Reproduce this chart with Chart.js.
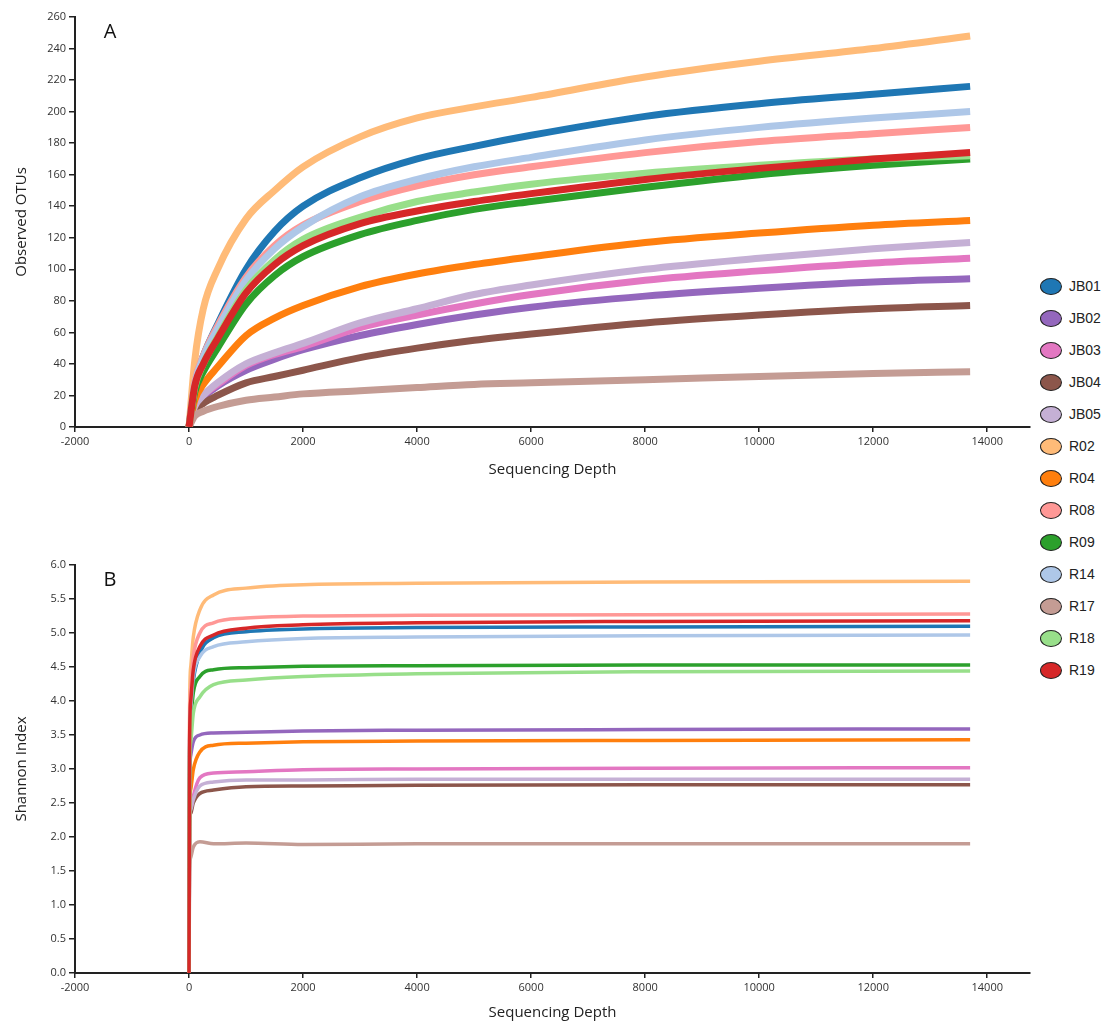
<!DOCTYPE html>
<html>
<head>
<meta charset="utf-8">
<script src="https://cdn.jsdelivr.net/npm/chart.js@4/dist/chart.umd.min.js"></script>
<style>
  body { margin: 0; background: #fff; width: 1113px; height: 1028px; position: relative; overflow: hidden; }
  canvas { position: absolute; left: 0; }
  #legend { position: absolute; left: 1040px; top: 270px; font-family: "Liberation Sans", Arial, sans-serif; font-size: 14px; color: #222; }
  .item { height: 32px; display: flex; align-items: center; }
  .swatch { width: 20px; height: 15px; border: 1.5px solid #222; border-radius: 50%; margin-right: 7px; box-sizing: content-box; }
</style>
</head>
<body>
<canvas id="chartA" width="1040" height="490" style="top:0"></canvas>
<canvas id="chartB" width="1040" height="488" style="top:540px"></canvas>
<div id="legend"></div>
<script>
// samples and colours (legend order)
const samples = ["JB01", "JB02", "JB03", "JB04", "JB05", "R02", "R04", "R08", "R09", "R14", "R17", "R18", "R19"];
const colors = ["#1f77b4", "#9467bd", "#e377c2", "#8c564b", "#c5b0d5", "#ffbb78", "#ff7f0e", "#ff9896", "#2ca02c", "#aec7e8", "#c49c94", "#98df8a", "#d62728"];

// panel A: observed OTUs, read at these depths
const depthA = [0, 100, 250, 500, 1000, 1500, 2000, 3000, 4000, 5000, 6000, 8000, 10000, 12000, 13700];
const otuJB01 = [0, 28, 45, 65, 100, 124, 140, 158, 170, 178, 185, 197, 205, 211, 216];
const otuJB02 = [0, 13, 19, 26, 36, 43, 49, 58, 65, 71, 76, 83, 88, 92, 94];
const otuJB03 = [0, 13, 20, 27, 39, 46, 51, 63, 71, 78, 84, 93, 99, 104, 107];
const otuJB04 = [0, 10, 15, 20, 28, 32, 36, 44, 50, 55, 59, 66, 71, 75, 77];
const otuJB05 = [0, 13, 20, 28, 40, 47, 53, 66, 75, 84, 90, 100, 107, 113, 117];
const otuR02 = [0, 42, 75, 100, 132, 150, 165, 184, 196, 203, 209, 222, 232, 240, 248];
const otuR04 = [0, 17, 27, 38, 58, 69, 77, 89, 97, 103, 108, 117, 123, 128, 131];
const otuR08 = [0, 28, 45, 64, 95, 115, 128, 143, 153, 160, 165, 174, 181, 186, 190];
const otuR09 = [0, 22, 35, 50, 78, 96, 108, 122, 131, 138, 143, 152, 160, 166, 170];
const otuR14 = [0, 27, 44, 62, 93, 113, 127, 146, 157, 165, 171, 182, 190, 196, 200];
const otuR17 = [0, 7, 10, 13, 17, 19, 21, 23, 25, 27, 28, 30, 32, 34, 35];
const otuR18 = [0, 25, 40, 57, 87, 106, 119, 133, 143, 149, 154, 161, 166, 170, 172];
const otuR19 = [0, 26, 40, 56, 85, 103, 115, 129, 137, 143, 148, 157, 164, 170, 174];

// panel B: Shannon index, read at these depths
const depthB = [0, 10, 30, 75, 190, 430, 1000, 2000, 4000, 8000, 13700];
const shJB01 = [0, 3.3, 3.9, 4.3, 4.7, 4.93, 5.02, 5.06, 5.08, 5.09, 5.10];
const shJB02 = [0, 2.8, 3.2, 3.4, 3.5, 3.53, 3.54, 3.56, 3.57, 3.58, 3.59];
const shJB03 = [0, 2.2, 2.4, 2.6, 2.87, 2.94, 2.96, 2.99, 3.00, 3.01, 3.02];
const shJB04 = [0, 2.2, 2.35, 2.5, 2.64, 2.69, 2.74, 2.75, 2.76, 2.77, 2.77];
const shJB05 = [0, 2.2, 2.4, 2.55, 2.75, 2.81, 2.84, 2.84, 2.85, 2.85, 2.85];
const shR02 = [0, 3.9, 4.5, 4.94, 5.34, 5.56, 5.66, 5.71, 5.73, 5.75, 5.76];
const shR04 = [0, 2.4, 2.7, 2.99, 3.25, 3.35, 3.38, 3.40, 3.41, 3.42, 3.43];
const shR08 = [0, 3.6, 4.2, 4.65, 5.0, 5.15, 5.22, 5.25, 5.26, 5.27, 5.28];
const shR09 = [0, 3.2, 3.7, 4.12, 4.36, 4.46, 4.49, 4.51, 4.52, 4.53, 4.53];
const shR14 = [0, 3.4, 3.9, 4.36, 4.65, 4.80, 4.87, 4.92, 4.94, 4.96, 4.97];
const shR17 = [0, 1.5, 1.7, 1.85, 1.93, 1.90, 1.91, 1.89, 1.90, 1.90, 1.90];
const shR18 = [0, 3.0, 3.4, 3.82, 4.06, 4.24, 4.31, 4.36, 4.40, 4.43, 4.44];
const shR19 = [0, 3.4, 4.0, 4.46, 4.8, 4.97, 5.07, 5.12, 5.15, 5.17, 5.18];

const xTicks = [-2000, 0, 2000, 4000, 6000, 8000, 10000, 12000, 14000];

const otuSeries = [otuJB01, otuJB02, otuJB03, otuJB04, otuJB05, otuR02, otuR04, otuR08, otuR09, otuR14, otuR17, otuR18, otuR19];
const shSeries = [shJB01, shJB02, shJB03, shJB04, shJB05, shR02, shR04, shR08, shR09, shR14, shR17, shR18, shR19];

const axisColor = "#222";
const tickFont = { family: "'Open Sans', 'DejaVu Sans', sans-serif", size: 11 };
const titleFont = { family: "'Open Sans', 'DejaVu Sans', sans-serif", size: 15 };

// draws the panel letter in the top left of the plot area
const panelLetter = {
    id: "panelletter",
    afterDraw: function (chart) {
        var letter = chart.config.options.plugins.panelletter.text;
        var ctx = chart.ctx;
        ctx.save();
        ctx.font = "20px 'Open Sans', 'DejaVu Sans', sans-serif";
        ctx.fillStyle = "#111";
        ctx.textAlign = "center";
        ctx.textBaseline = "middle";
        ctx.fillText(letter, chart.chartArea.left + 35, chart.chartArea.top + 15);
        ctx.restore();
    }
};

function make_datasets(depths, series, width) {
    var sets = [];
    for (var i = 0; i < samples.length; i++) {
        var pts = [];
        for (var j = 0; j < depths.length; j++) {
            pts.push({ x: depths[j], y: series[i][j] });
        }
        sets.push({
            label: samples[i],
            data: pts,
            borderColor: colors[i],
            backgroundColor: colors[i],
            borderWidth: width,
            pointRadius: 0,
            cubicInterpolationMode: "monotone",
            order: samples.length - i   // later samples drawn on top
        });
    }
    return sets;
}

function panel_chart(id, letter, datasets, yOpts, padTop, xHeight, xTitlePad) {
    var canvas = document.getElementById(id);
    return new Chart(canvas, {
        type: "line",
        data: { datasets: datasets },
        options: {
            responsive: false,
            animation: false,
            layout: { padding: { left: 0, right: 10, top: padTop, bottom: 0 } },
            plugins: {
                legend: { display: false },
                tooltip: { enabled: false },
                panelletter: { text: letter }
            },
            scales: {
                x: {
                    type: "linear",
                    min: -2000,
                    max: 14750,
                    afterBuildTicks: function (scale) {
                        scale.ticks = xTicks.map(function (v) { return { value: v }; });
                    },
                    afterFit: function (scale) { scale.height = xHeight; },
                    grid: { drawOnChartArea: false, drawTicks: true, tickLength: 5, color: axisColor, lineWidth: 1.5 },
                    border: { display: true, color: axisColor, width: 2 },
                    ticks: {
                        font: tickFont, color: "#333", padding: 3, maxRotation: 0,
                        callback: function (v) { return String(v); }
                    },
                    title: { display: true, text: "Sequencing Depth", font: titleFont, color: "#222", padding: { top: 0, bottom: xTitlePad } }
                },
                y: {
                    type: "linear",
                    min: yOpts.min,
                    max: yOpts.max,
                    afterFit: function (scale) { scale.width = 75; },
                    grid: { drawOnChartArea: false, drawTicks: true, tickLength: 6, color: axisColor, lineWidth: 1.5 },
                    border: { display: true, color: axisColor, width: 2 },
                    ticks: {
                        font: tickFont, color: "#333", padding: 3, stepSize: yOpts.step,
                        callback: function (v) { return yOpts.decimals ? v.toFixed(1) : String(v); }
                    },
                    title: { display: true, text: yOpts.title, font: titleFont, color: "#222", padding: { top: 13, bottom: 0 } }
                }
            }
        },
        plugins: [panelLetter]
    });
}

panel_chart("chartA", "A", make_datasets(depthA, otuSeries, 7),
    { min: 0, max: 260, step: 20, title: "Observed OTUs", decimals: false }, 17, 63, 11);
panel_chart("chartB", "B", make_datasets(depthB, shSeries, 3.5),
    { min: 0, max: 6, step: 0.5, title: "Shannon Index", decimals: true }, 25, 55, 6);

// shared legend on the right
var legend = document.getElementById("legend");
for (var i = 0; i < samples.length; i++) {
    var row = document.createElement("div");
    row.className = "item";
    var sw = document.createElement("span");
    sw.className = "swatch";
    sw.style.background = colors[i];
    var txt = document.createElement("span");
    txt.textContent = samples[i];
    row.appendChild(sw);
    row.appendChild(txt);
    legend.appendChild(row);
}
</script>
</body>
</html>
